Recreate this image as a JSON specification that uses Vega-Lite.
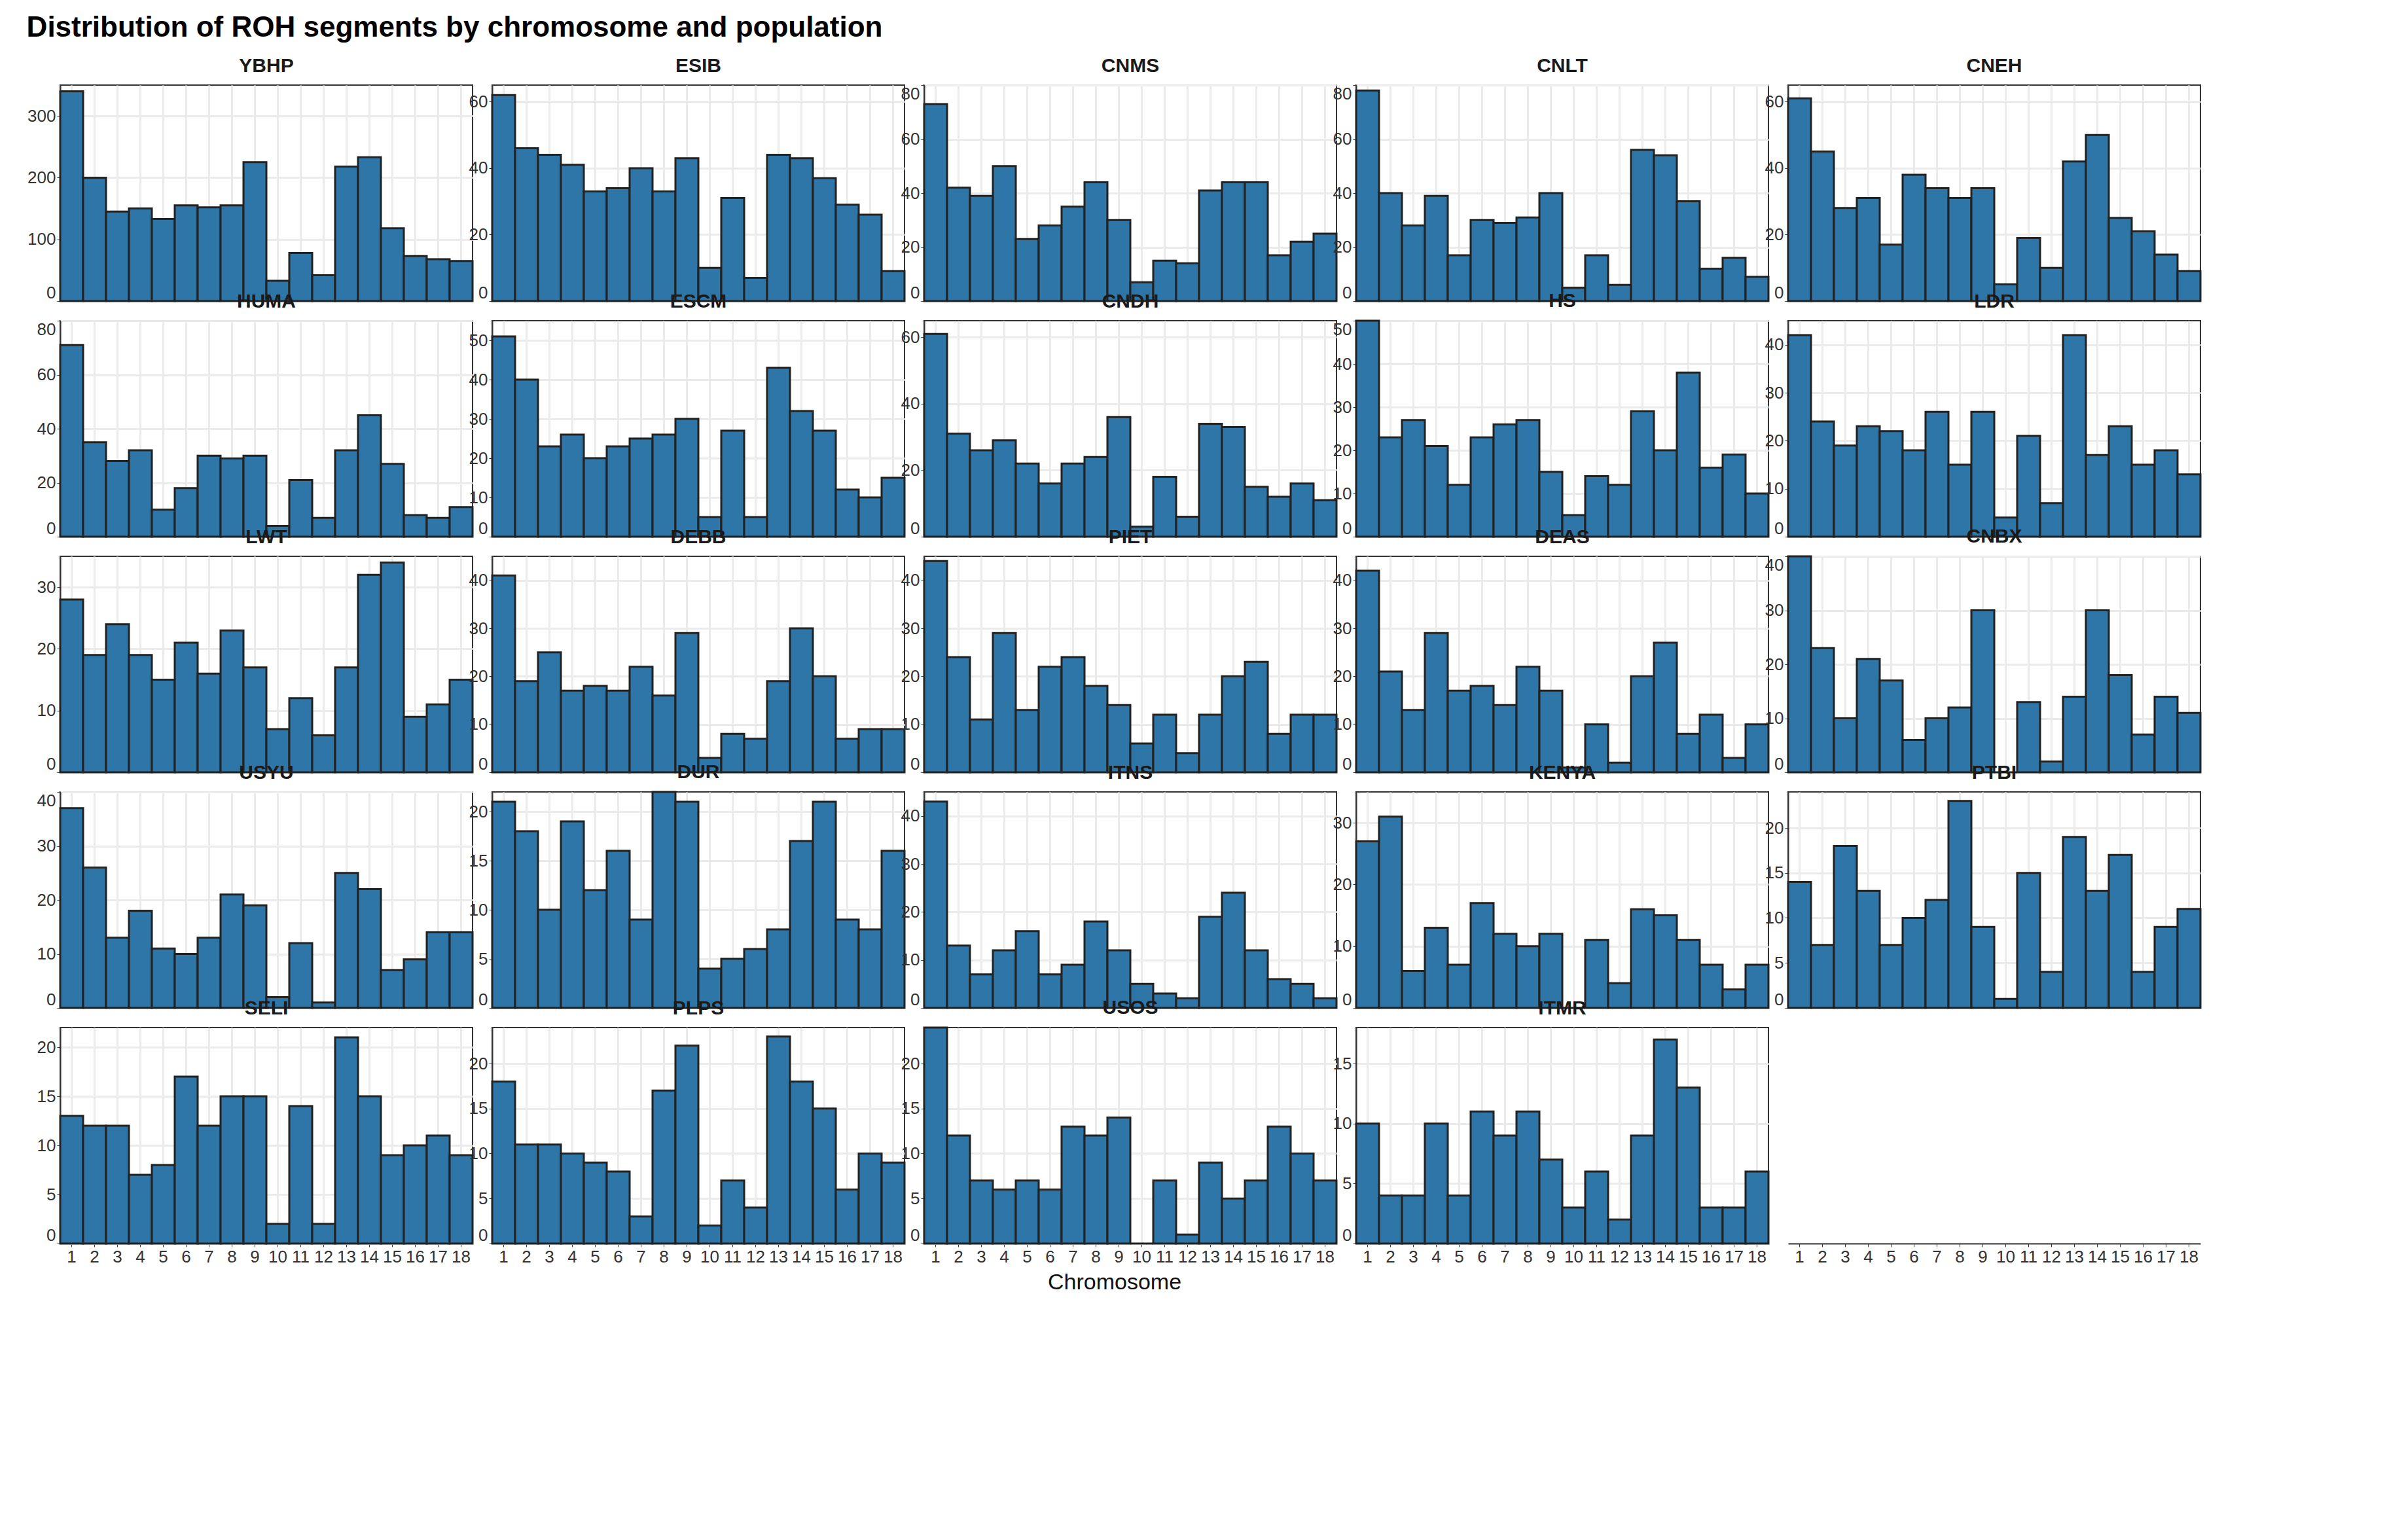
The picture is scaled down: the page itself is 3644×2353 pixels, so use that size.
{"$schema":"https://vega.github.io/schema/vega-lite/v6.json","background":"white","padding":{"left":40,"top":20,"right":40,"bottom":20},
"title":{"text":"Distribution of ROH segments by chromosome and population","anchor":"start","fontSize":44,"font":"Liberation Sans","fontWeight":"bold","offset":20},
"data":{"values":[
{"p":"YBHP","c":1,"n":340},{"p":"YBHP","c":2,"n":200},{"p":"YBHP","c":3,"n":145},{"p":"YBHP","c":4,"n":150},{"p":"YBHP","c":5,"n":133},{"p":"YBHP","c":6,"n":155},{"p":"YBHP","c":7,"n":152},{"p":"YBHP","c":8,"n":155},{"p":"YBHP","c":9,"n":225},{"p":"YBHP","c":10,"n":33},{"p":"YBHP","c":11,"n":78},{"p":"YBHP","c":12,"n":42},{"p":"YBHP","c":13,"n":218},{"p":"YBHP","c":14,"n":233},{"p":"YBHP","c":15,"n":118},{"p":"YBHP","c":16,"n":73},{"p":"YBHP","c":17,"n":68},{"p":"YBHP","c":18,"n":65},
{"p":"ESIB","c":1,"n":62},{"p":"ESIB","c":2,"n":46},{"p":"ESIB","c":3,"n":44},{"p":"ESIB","c":4,"n":41},{"p":"ESIB","c":5,"n":33},{"p":"ESIB","c":6,"n":34},{"p":"ESIB","c":7,"n":40},{"p":"ESIB","c":8,"n":33},{"p":"ESIB","c":9,"n":43},{"p":"ESIB","c":10,"n":10},{"p":"ESIB","c":11,"n":31},{"p":"ESIB","c":12,"n":7},{"p":"ESIB","c":13,"n":44},{"p":"ESIB","c":14,"n":43},{"p":"ESIB","c":15,"n":37},{"p":"ESIB","c":16,"n":29},{"p":"ESIB","c":17,"n":26},{"p":"ESIB","c":18,"n":9},
{"p":"CNMS","c":1,"n":73},{"p":"CNMS","c":2,"n":42},{"p":"CNMS","c":3,"n":39},{"p":"CNMS","c":4,"n":50},{"p":"CNMS","c":5,"n":23},{"p":"CNMS","c":6,"n":28},{"p":"CNMS","c":7,"n":35},{"p":"CNMS","c":8,"n":44},{"p":"CNMS","c":9,"n":30},{"p":"CNMS","c":10,"n":7},{"p":"CNMS","c":11,"n":15},{"p":"CNMS","c":12,"n":14},{"p":"CNMS","c":13,"n":41},{"p":"CNMS","c":14,"n":44},{"p":"CNMS","c":15,"n":44},{"p":"CNMS","c":16,"n":17},{"p":"CNMS","c":17,"n":22},{"p":"CNMS","c":18,"n":25},
{"p":"CNLT","c":1,"n":78},{"p":"CNLT","c":2,"n":40},{"p":"CNLT","c":3,"n":28},{"p":"CNLT","c":4,"n":39},{"p":"CNLT","c":5,"n":17},{"p":"CNLT","c":6,"n":30},{"p":"CNLT","c":7,"n":29},{"p":"CNLT","c":8,"n":31},{"p":"CNLT","c":9,"n":40},{"p":"CNLT","c":10,"n":5},{"p":"CNLT","c":11,"n":17},{"p":"CNLT","c":12,"n":6},{"p":"CNLT","c":13,"n":56},{"p":"CNLT","c":14,"n":54},{"p":"CNLT","c":15,"n":37},{"p":"CNLT","c":16,"n":12},{"p":"CNLT","c":17,"n":16},{"p":"CNLT","c":18,"n":9},
{"p":"CNEH","c":1,"n":61},{"p":"CNEH","c":2,"n":45},{"p":"CNEH","c":3,"n":28},{"p":"CNEH","c":4,"n":31},{"p":"CNEH","c":5,"n":17},{"p":"CNEH","c":6,"n":38},{"p":"CNEH","c":7,"n":34},{"p":"CNEH","c":8,"n":31},{"p":"CNEH","c":9,"n":34},{"p":"CNEH","c":10,"n":5},{"p":"CNEH","c":11,"n":19},{"p":"CNEH","c":12,"n":10},{"p":"CNEH","c":13,"n":42},{"p":"CNEH","c":14,"n":50},{"p":"CNEH","c":15,"n":25},{"p":"CNEH","c":16,"n":21},{"p":"CNEH","c":17,"n":14},{"p":"CNEH","c":18,"n":9},
{"p":"HUMA","c":1,"n":71},{"p":"HUMA","c":2,"n":35},{"p":"HUMA","c":3,"n":28},{"p":"HUMA","c":4,"n":32},{"p":"HUMA","c":5,"n":10},{"p":"HUMA","c":6,"n":18},{"p":"HUMA","c":7,"n":30},{"p":"HUMA","c":8,"n":29},{"p":"HUMA","c":9,"n":30},{"p":"HUMA","c":10,"n":4},{"p":"HUMA","c":11,"n":21},{"p":"HUMA","c":12,"n":7},{"p":"HUMA","c":13,"n":32},{"p":"HUMA","c":14,"n":45},{"p":"HUMA","c":15,"n":27},{"p":"HUMA","c":16,"n":8},{"p":"HUMA","c":17,"n":7},{"p":"HUMA","c":18,"n":11},
{"p":"ESCM","c":1,"n":51},{"p":"ESCM","c":2,"n":40},{"p":"ESCM","c":3,"n":23},{"p":"ESCM","c":4,"n":26},{"p":"ESCM","c":5,"n":20},{"p":"ESCM","c":6,"n":23},{"p":"ESCM","c":7,"n":25},{"p":"ESCM","c":8,"n":26},{"p":"ESCM","c":9,"n":30},{"p":"ESCM","c":10,"n":5},{"p":"ESCM","c":11,"n":27},{"p":"ESCM","c":12,"n":5},{"p":"ESCM","c":13,"n":43},{"p":"ESCM","c":14,"n":32},{"p":"ESCM","c":15,"n":27},{"p":"ESCM","c":16,"n":12},{"p":"ESCM","c":17,"n":10},{"p":"ESCM","c":18,"n":15},
{"p":"CNDH","c":1,"n":61},{"p":"CNDH","c":2,"n":31},{"p":"CNDH","c":3,"n":26},{"p":"CNDH","c":4,"n":29},{"p":"CNDH","c":5,"n":22},{"p":"CNDH","c":6,"n":16},{"p":"CNDH","c":7,"n":22},{"p":"CNDH","c":8,"n":24},{"p":"CNDH","c":9,"n":36},{"p":"CNDH","c":10,"n":3},{"p":"CNDH","c":11,"n":18},{"p":"CNDH","c":12,"n":6},{"p":"CNDH","c":13,"n":34},{"p":"CNDH","c":14,"n":33},{"p":"CNDH","c":15,"n":15},{"p":"CNDH","c":16,"n":12},{"p":"CNDH","c":17,"n":16},{"p":"CNDH","c":18,"n":11},
{"p":"HS","c":1,"n":50},{"p":"HS","c":2,"n":23},{"p":"HS","c":3,"n":27},{"p":"HS","c":4,"n":21},{"p":"HS","c":5,"n":12},{"p":"HS","c":6,"n":23},{"p":"HS","c":7,"n":26},{"p":"HS","c":8,"n":27},{"p":"HS","c":9,"n":15},{"p":"HS","c":10,"n":5},{"p":"HS","c":11,"n":14},{"p":"HS","c":12,"n":12},{"p":"HS","c":13,"n":29},{"p":"HS","c":14,"n":20},{"p":"HS","c":15,"n":38},{"p":"HS","c":16,"n":16},{"p":"HS","c":17,"n":19},{"p":"HS","c":18,"n":10},
{"p":"LDR","c":1,"n":42},{"p":"LDR","c":2,"n":24},{"p":"LDR","c":3,"n":19},{"p":"LDR","c":4,"n":23},{"p":"LDR","c":5,"n":22},{"p":"LDR","c":6,"n":18},{"p":"LDR","c":7,"n":26},{"p":"LDR","c":8,"n":15},{"p":"LDR","c":9,"n":26},{"p":"LDR","c":10,"n":4},{"p":"LDR","c":11,"n":21},{"p":"LDR","c":12,"n":7},{"p":"LDR","c":13,"n":42},{"p":"LDR","c":14,"n":17},{"p":"LDR","c":15,"n":23},{"p":"LDR","c":16,"n":15},{"p":"LDR","c":17,"n":18},{"p":"LDR","c":18,"n":13},
{"p":"LWT","c":1,"n":28},{"p":"LWT","c":2,"n":19},{"p":"LWT","c":3,"n":24},{"p":"LWT","c":4,"n":19},{"p":"LWT","c":5,"n":15},{"p":"LWT","c":6,"n":21},{"p":"LWT","c":7,"n":16},{"p":"LWT","c":8,"n":23},{"p":"LWT","c":9,"n":17},{"p":"LWT","c":10,"n":7},{"p":"LWT","c":11,"n":12},{"p":"LWT","c":12,"n":6},{"p":"LWT","c":13,"n":17},{"p":"LWT","c":14,"n":32},{"p":"LWT","c":15,"n":34},{"p":"LWT","c":16,"n":9},{"p":"LWT","c":17,"n":11},{"p":"LWT","c":18,"n":15},
{"p":"DEBB","c":1,"n":41},{"p":"DEBB","c":2,"n":19},{"p":"DEBB","c":3,"n":25},{"p":"DEBB","c":4,"n":17},{"p":"DEBB","c":5,"n":18},{"p":"DEBB","c":6,"n":17},{"p":"DEBB","c":7,"n":22},{"p":"DEBB","c":8,"n":16},{"p":"DEBB","c":9,"n":29},{"p":"DEBB","c":10,"n":3},{"p":"DEBB","c":11,"n":8},{"p":"DEBB","c":12,"n":7},{"p":"DEBB","c":13,"n":19},{"p":"DEBB","c":14,"n":30},{"p":"DEBB","c":15,"n":20},{"p":"DEBB","c":16,"n":7},{"p":"DEBB","c":17,"n":9},{"p":"DEBB","c":18,"n":9},
{"p":"PIET","c":1,"n":44},{"p":"PIET","c":2,"n":24},{"p":"PIET","c":3,"n":11},{"p":"PIET","c":4,"n":29},{"p":"PIET","c":5,"n":13},{"p":"PIET","c":6,"n":22},{"p":"PIET","c":7,"n":24},{"p":"PIET","c":8,"n":18},{"p":"PIET","c":9,"n":14},{"p":"PIET","c":10,"n":6},{"p":"PIET","c":11,"n":12},{"p":"PIET","c":12,"n":4},{"p":"PIET","c":13,"n":12},{"p":"PIET","c":14,"n":20},{"p":"PIET","c":15,"n":23},{"p":"PIET","c":16,"n":8},{"p":"PIET","c":17,"n":12},{"p":"PIET","c":18,"n":12},
{"p":"DEAS","c":1,"n":42},{"p":"DEAS","c":2,"n":21},{"p":"DEAS","c":3,"n":13},{"p":"DEAS","c":4,"n":29},{"p":"DEAS","c":5,"n":17},{"p":"DEAS","c":6,"n":18},{"p":"DEAS","c":7,"n":14},{"p":"DEAS","c":8,"n":22},{"p":"DEAS","c":9,"n":17},{"p":"DEAS","c":10,"n":1},{"p":"DEAS","c":11,"n":10},{"p":"DEAS","c":12,"n":2},{"p":"DEAS","c":13,"n":20},{"p":"DEAS","c":14,"n":27},{"p":"DEAS","c":15,"n":8},{"p":"DEAS","c":16,"n":12},{"p":"DEAS","c":17,"n":3},{"p":"DEAS","c":18,"n":10},
{"p":"CNBX","c":1,"n":40},{"p":"CNBX","c":2,"n":23},{"p":"CNBX","c":3,"n":10},{"p":"CNBX","c":4,"n":21},{"p":"CNBX","c":5,"n":17},{"p":"CNBX","c":6,"n":6},{"p":"CNBX","c":7,"n":10},{"p":"CNBX","c":8,"n":12},{"p":"CNBX","c":9,"n":30},{"p":"CNBX","c":10,"n":0},{"p":"CNBX","c":11,"n":13},{"p":"CNBX","c":12,"n":2},{"p":"CNBX","c":13,"n":14},{"p":"CNBX","c":14,"n":30},{"p":"CNBX","c":15,"n":18},{"p":"CNBX","c":16,"n":7},{"p":"CNBX","c":17,"n":14},{"p":"CNBX","c":18,"n":11},
{"p":"USYU","c":1,"n":37},{"p":"USYU","c":2,"n":26},{"p":"USYU","c":3,"n":13},{"p":"USYU","c":4,"n":18},{"p":"USYU","c":5,"n":11},{"p":"USYU","c":6,"n":10},{"p":"USYU","c":7,"n":13},{"p":"USYU","c":8,"n":21},{"p":"USYU","c":9,"n":19},{"p":"USYU","c":10,"n":2},{"p":"USYU","c":11,"n":12},{"p":"USYU","c":12,"n":1},{"p":"USYU","c":13,"n":25},{"p":"USYU","c":14,"n":22},{"p":"USYU","c":15,"n":7},{"p":"USYU","c":16,"n":9},{"p":"USYU","c":17,"n":14},{"p":"USYU","c":18,"n":14},
{"p":"DUR","c":1,"n":21},{"p":"DUR","c":2,"n":18},{"p":"DUR","c":3,"n":10},{"p":"DUR","c":4,"n":19},{"p":"DUR","c":5,"n":12},{"p":"DUR","c":6,"n":16},{"p":"DUR","c":7,"n":9},{"p":"DUR","c":8,"n":22},{"p":"DUR","c":9,"n":21},{"p":"DUR","c":10,"n":4},{"p":"DUR","c":11,"n":5},{"p":"DUR","c":12,"n":6},{"p":"DUR","c":13,"n":8},{"p":"DUR","c":14,"n":17},{"p":"DUR","c":15,"n":21},{"p":"DUR","c":16,"n":9},{"p":"DUR","c":17,"n":8},{"p":"DUR","c":18,"n":16},
{"p":"ITNS","c":1,"n":43},{"p":"ITNS","c":2,"n":13},{"p":"ITNS","c":3,"n":7},{"p":"ITNS","c":4,"n":12},{"p":"ITNS","c":5,"n":16},{"p":"ITNS","c":6,"n":7},{"p":"ITNS","c":7,"n":9},{"p":"ITNS","c":8,"n":18},{"p":"ITNS","c":9,"n":12},{"p":"ITNS","c":10,"n":5},{"p":"ITNS","c":11,"n":3},{"p":"ITNS","c":12,"n":2},{"p":"ITNS","c":13,"n":19},{"p":"ITNS","c":14,"n":24},{"p":"ITNS","c":15,"n":12},{"p":"ITNS","c":16,"n":6},{"p":"ITNS","c":17,"n":5},{"p":"ITNS","c":18,"n":2},
{"p":"KENYA","c":1,"n":27},{"p":"KENYA","c":2,"n":31},{"p":"KENYA","c":3,"n":6},{"p":"KENYA","c":4,"n":13},{"p":"KENYA","c":5,"n":7},{"p":"KENYA","c":6,"n":17},{"p":"KENYA","c":7,"n":12},{"p":"KENYA","c":8,"n":10},{"p":"KENYA","c":9,"n":12},{"p":"KENYA","c":10,"n":0},{"p":"KENYA","c":11,"n":11},{"p":"KENYA","c":12,"n":4},{"p":"KENYA","c":13,"n":16},{"p":"KENYA","c":14,"n":15},{"p":"KENYA","c":15,"n":11},{"p":"KENYA","c":16,"n":7},{"p":"KENYA","c":17,"n":3},{"p":"KENYA","c":18,"n":7},
{"p":"PTBI","c":1,"n":14},{"p":"PTBI","c":2,"n":7},{"p":"PTBI","c":3,"n":18},{"p":"PTBI","c":4,"n":13},{"p":"PTBI","c":5,"n":7},{"p":"PTBI","c":6,"n":10},{"p":"PTBI","c":7,"n":12},{"p":"PTBI","c":8,"n":23},{"p":"PTBI","c":9,"n":9},{"p":"PTBI","c":10,"n":1},{"p":"PTBI","c":11,"n":15},{"p":"PTBI","c":12,"n":4},{"p":"PTBI","c":13,"n":19},{"p":"PTBI","c":14,"n":13},{"p":"PTBI","c":15,"n":17},{"p":"PTBI","c":16,"n":4},{"p":"PTBI","c":17,"n":9},{"p":"PTBI","c":18,"n":11},
{"p":"SELI","c":1,"n":13},{"p":"SELI","c":2,"n":12},{"p":"SELI","c":3,"n":12},{"p":"SELI","c":4,"n":7},{"p":"SELI","c":5,"n":8},{"p":"SELI","c":6,"n":17},{"p":"SELI","c":7,"n":12},{"p":"SELI","c":8,"n":15},{"p":"SELI","c":9,"n":15},{"p":"SELI","c":10,"n":2},{"p":"SELI","c":11,"n":14},{"p":"SELI","c":12,"n":2},{"p":"SELI","c":13,"n":21},{"p":"SELI","c":14,"n":15},{"p":"SELI","c":15,"n":9},{"p":"SELI","c":16,"n":10},{"p":"SELI","c":17,"n":11},{"p":"SELI","c":18,"n":9},
{"p":"PLPS","c":1,"n":18},{"p":"PLPS","c":2,"n":11},{"p":"PLPS","c":3,"n":11},{"p":"PLPS","c":4,"n":10},{"p":"PLPS","c":5,"n":9},{"p":"PLPS","c":6,"n":8},{"p":"PLPS","c":7,"n":3},{"p":"PLPS","c":8,"n":17},{"p":"PLPS","c":9,"n":22},{"p":"PLPS","c":10,"n":2},{"p":"PLPS","c":11,"n":7},{"p":"PLPS","c":12,"n":4},{"p":"PLPS","c":13,"n":23},{"p":"PLPS","c":14,"n":18},{"p":"PLPS","c":15,"n":15},{"p":"PLPS","c":16,"n":6},{"p":"PLPS","c":17,"n":10},{"p":"PLPS","c":18,"n":9},
{"p":"USOS","c":1,"n":24},{"p":"USOS","c":2,"n":12},{"p":"USOS","c":3,"n":7},{"p":"USOS","c":4,"n":6},{"p":"USOS","c":5,"n":7},{"p":"USOS","c":6,"n":6},{"p":"USOS","c":7,"n":13},{"p":"USOS","c":8,"n":12},{"p":"USOS","c":9,"n":14},{"p":"USOS","c":10,"n":0},{"p":"USOS","c":11,"n":7},{"p":"USOS","c":12,"n":1},{"p":"USOS","c":13,"n":9},{"p":"USOS","c":14,"n":5},{"p":"USOS","c":15,"n":7},{"p":"USOS","c":16,"n":13},{"p":"USOS","c":17,"n":10},{"p":"USOS","c":18,"n":7},
{"p":"ITMR","c":1,"n":10},{"p":"ITMR","c":2,"n":4},{"p":"ITMR","c":3,"n":4},{"p":"ITMR","c":4,"n":10},{"p":"ITMR","c":5,"n":4},{"p":"ITMR","c":6,"n":11},{"p":"ITMR","c":7,"n":9},{"p":"ITMR","c":8,"n":11},{"p":"ITMR","c":9,"n":7},{"p":"ITMR","c":10,"n":3},{"p":"ITMR","c":11,"n":6},{"p":"ITMR","c":12,"n":2},{"p":"ITMR","c":13,"n":9},{"p":"ITMR","c":14,"n":17},{"p":"ITMR","c":15,"n":13},{"p":"ITMR","c":16,"n":3},{"p":"ITMR","c":17,"n":3},{"p":"ITMR","c":18,"n":6}
]},
"facet":{"field":"p","type":"nominal","title":"Chromosome","sort":["YBHP","ESIB","CNMS","CNLT","CNEH","HUMA","ESCM","CNDH","HS","LDR","LWT","DEBB","PIET","DEAS","CNBX","USYU","DUR","ITNS","KENYA","PTBI","SELI","PLPS","USOS","ITMR"],
 "header":{"titleOrient":"bottom","titleFontSize":34,"titleFont":"Liberation Sans","titleFontWeight":"normal","titleColor":"#111","titlePadding":10,"labelFontSize":30,"labelFont":"Liberation Sans","labelFontWeight":"bold","labelColor":"#1a1a1a","labelPadding":14}},
"columns":5,
"bounds":"flush",
"spacing":{"column":30,"row":30},
"resolve":{"scale":{"y":"independent"}},
"spec":{
 "width":630,"height":330,
 "mark":{"type":"bar","fill":"#2e75a8","stroke":"#222222","strokeWidth":3},
 "encoding":{
  "x":{"field":"c","type":"ordinal","title":null,"scale":{"paddingInner":0,"paddingOuter":0},
   "axis":{"labelAngle":0,"labelFontSize":26,"labelFont":"Liberation Sans","labelColor":"#333","grid":true,"gridColor":"#ebebeb","gridWidth":3,"tickColor":"#333","domainColor":"#333","domainWidth":2}},
  "y":{"field":"n","type":"quantitative","title":null,
   "axis":{"labelFontSize":26,"labelFont":"Liberation Sans","labelColor":"#333","labelFlush":true,"gridColor":"#ebebeb","gridWidth":3,"tickCount":4,"tickColor":"#333","domainColor":"#333","domainWidth":2}}
 }
},
"config":{"view":{"stroke":"#333","strokeWidth":2}}
}
